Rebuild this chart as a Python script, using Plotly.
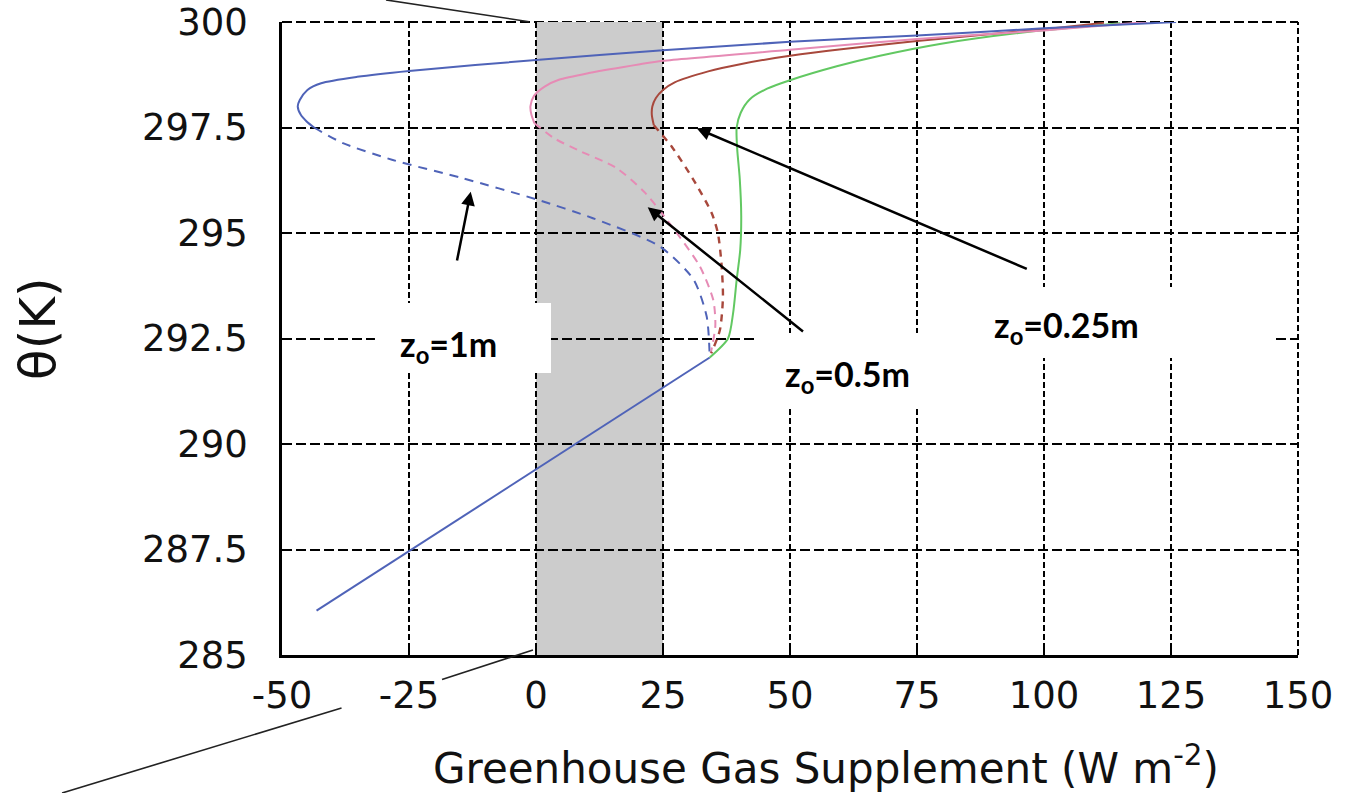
import plotly.graph_objects as go

# Axis ticks
x_ticks = [-50, -25, 0, 25, 50, 75, 100, 125, 150]
x_tick_text = ["-50", "-25", "0", "25", "50", "75", "100", "125", "150"]
y_ticks = [285, 287.5, 290, 292.5, 295, 297.5, 300]
y_tick_text = ["285", "287.5", "290", "292.5", "295", "297.5", "300"]

# Shared lower branch (W m-2, K)
low_x = [-43.2, 34.2]
low_theta = [286.05, 292.05]

# z0 = 1 m
z1_stable_x = [126, 100, 75, 50, 25, 0, -25, -35.2, -42.3, -45.0, -46.5, -46.9, -46.3, -45.2, -43.7]
z1_stable_theta = [300.0, 299.85, 299.68, 299.53, 299.33, 299.1, 298.84, 298.7, 298.55, 298.39, 298.15, 298.0, 297.8, 297.65, 297.5]
z1_unstable_x = [-43.7, -38, -28.2, -14.5, 0, 11.2, 24.4, 31, 33.6, 34.2]
z1_unstable_theta = [297.5, 297.13, 296.73, 296.3, 295.8, 295.35, 294.68, 293.9, 293.02, 292.05]

# z0 = 0.5 m
z05_stable_x = [120.3, 110, 100, 75, 50, 25, 20.5, 10.4, 4.5, 1.7, -0.4, -1.1, -0.9, -0.3]
z05_stable_theta = [300.0, 299.9, 299.8, 299.6, 299.34, 299.08, 299.0, 298.79, 298.63, 298.47, 298.25, 298.0, 297.8, 297.6]
z05_unstable_x = [-0.3, 3.5, 8.5, 15.7, 21.5, 27.7, 32.3, 34.9, 35.3, 34.4]
z05_unstable_theta = [297.6, 297.25, 296.95, 296.55, 295.95, 295.0, 294.2, 293.41, 292.8, 292.15]

# z0 = 0.25 m
z025_stable_x = [111.8, 100, 75, 50, 40.2, 33.9, 27.3, 25, 23.6, 22.9, 22.8, 23.2]
z025_stable_theta = [299.98, 299.83, 299.55, 299.2, 299.0, 298.83, 298.57, 298.39, 298.2, 298.0, 297.8, 297.55]
z025_unstable_x = [23.2, 26.7, 31, 34.6, 35.8, 36.5, 36.8, 36.2, 34.5]
z025_unstable_theta = [297.55, 297.05, 296.26, 295.47, 295.0, 294.29, 293.49, 292.7, 292.15]

# Smooth-surface branch
green_x = [34.2, 37.8, 38.8, 39.5, 40.2, 40.4, 40.1, 39.6, 39.5, 40.3, 42.1, 45.5, 50, 59.2, 67.7, 79.5, 95, 115]
green_theta = [292.05, 292.5, 293.1, 293.89, 294.6, 295.4, 296.3, 297.0, 297.5, 297.85, 298.17, 298.42, 298.62, 298.95, 299.2, 299.48, 299.74, 299.97]

# Shaded band of the supplement axis
band_x = [0, 25]

BLUE = "#4f63b8"
PINK = "#e68bb5"
BROWN = "#a8483c"
GREEN = "#62c862"

fig = go.Figure()


def add_line(x, y, color, dash="solid", width=2.0):
    fig.add_trace(go.Scatter(
        x=x, y=y, mode="lines",
        line=dict(color=color, width=width, dash=dash, shape="spline", smoothing=0.7),
        showlegend=False, hoverinfo="skip",
    ))


add_line(low_x, low_theta, BLUE)
add_line(z1_unstable_x, z1_unstable_theta, BLUE, dash="9px,7px")
add_line(z05_unstable_x, z05_unstable_theta, PINK, dash="8px,6px")
add_line(z025_unstable_x, z025_unstable_theta, BROWN, dash="7px,6px", width=2.4)
add_line(green_x, green_theta, GREEN)
add_line(z025_stable_x, z025_stable_theta, BROWN)
add_line(z05_stable_x, z05_stable_theta, PINK)
add_line(z1_stable_x, z1_stable_theta, BLUE)

# grey band
fig.add_shape(type="rect", xref="x", yref="y", x0=band_x[0], x1=band_x[1], y0=285, y1=300,
              fillcolor="#cccccc", line=dict(width=0), layer="below")

# frame edges drawn dashed like the grid
fig.add_shape(type="line", xref="paper", yref="paper", x0=0, x1=1, y0=1, y1=1,
              line=dict(color="black", width=2, dash="10px,4px"), layer="below")
fig.add_shape(type="line", xref="paper", yref="paper", x0=1, x1=1, y0=0, y1=1,
              line=dict(color="black", width=2, dash="6px,3px"), layer="below")

# white label boxes
label_boxes = [
    (-31.7, 2.95, 291.68, 293.34),
    (43.7, 79.5, 290.88, 292.63),
    (79.5, 144.9, 292.04, 293.72),
]
for bx0, bx1, by0, by1 in label_boxes:
    fig.add_shape(type="rect", xref="x", yref="y", x0=bx0, x1=bx1, y0=by0, y1=by1,
                  fillcolor="white", line=dict(width=0), layer="above")

# zoom guide lines leading off the band
guide = dict(color="#222222", width=1.6)
fig.add_shape(type="line", xref="paper", yref="paper", x0=0.1024, y0=1.0348, x1=0.2431, y1=1.0005, line=guide)
fig.add_shape(type="line", xref="paper", yref="paper", x0=0.2470, y0=0.0079, x1=0.1575, y1=-0.0387, line=guide)
fig.add_shape(type="line", xref="paper", yref="paper", x0=0.0586, y0=-0.0837, x1=-0.2165, y1=-0.2180, line=guide)

label_font = dict(family="Lato, 'Open Sans', sans-serif", size=34, color="black", weight=700)
labels = [
    ("z<sub>o</sub>=1m", -17.3, 292.32),
    ("z<sub>o</sub>=0.5m", 61.4, 291.61),
    ("z<sub>o</sub>=0.25m", 104.4, 292.77),
]
for txt, lx, ly in labels:
    fig.add_annotation(x=lx, y=ly, xref="x", yref="y", text=txt, showarrow=False,
                       font=label_font, xanchor="center", yanchor="middle")

arrows = [
    # head (x, theta), tail (x, theta)
    (-12.85, 295.98, -15.94, 294.11),
    (21.99, 295.61, 53.15, 292.61),
    (31.63, 297.48, 97.2, 294.12),
]
for hx, hy, tx, ty in arrows:
    fig.add_annotation(x=hx, y=hy, ax=tx, ay=ty, xref="x", yref="y", axref="x", ayref="y",
                       text=" ", showarrow=True, arrowhead=2, arrowsize=1.1, arrowwidth=2.5,
                       arrowcolor="black", standoff=0, startstandoff=0)

# axis titles
fig.add_annotation(x=0.5354, y=-0.1738, xref="paper", yref="paper",
                   text="Greenhouse Gas Supplement (W m<sup>-2</sup>)", showarrow=False,
                   font=dict(family="DejaVu Sans", size=42, color="#111111"),
                   xanchor="center", yanchor="middle")
fig.add_annotation(x=-0.2402, y=0.515, xref="paper", yref="paper",
                   text="θ(K)", showarrow=False, textangle=-90,
                   font=dict(family="DejaVu Sans", size=50, color="#111111"),
                   xanchor="center", yanchor="middle")

tick_font = dict(family="DejaVu Sans", size=37, color="#111111")
fig.update_xaxes(range=[-50, 150], tickvals=x_ticks, ticktext=x_tick_text,
                 showgrid=True, gridcolor="black", gridwidth=2, griddash="6px,3px",
                 showline=True, linecolor="black", linewidth=2.5, mirror=False,
                 ticks="inside", ticklen=12, tickwidth=2, tickcolor="black",
                 zeroline=False, tickfont=tick_font, ticklabelstandoff=6,
                 automargin=False, fixedrange=True)
fig.update_yaxes(range=[285, 300], tickvals=y_ticks, ticktext=y_tick_text,
                 showgrid=True, gridcolor="black", gridwidth=2, griddash="10px,4px",
                 showline=True, linecolor="black", linewidth=2.5, mirror=False,
                 ticks="inside", ticklen=10, tickwidth=2, tickcolor="black",
                 zeroline=False, tickfont=tick_font, ticklabelstandoff=24,
                 automargin=False, fixedrange=True)

fig.update_layout(
    width=1345, height=793,
    margin=dict(l=282, r=47, t=22, b=138),
    paper_bgcolor="white", plot_bgcolor="white",
    showlegend=False,
)

fig.write_html("out.html")
